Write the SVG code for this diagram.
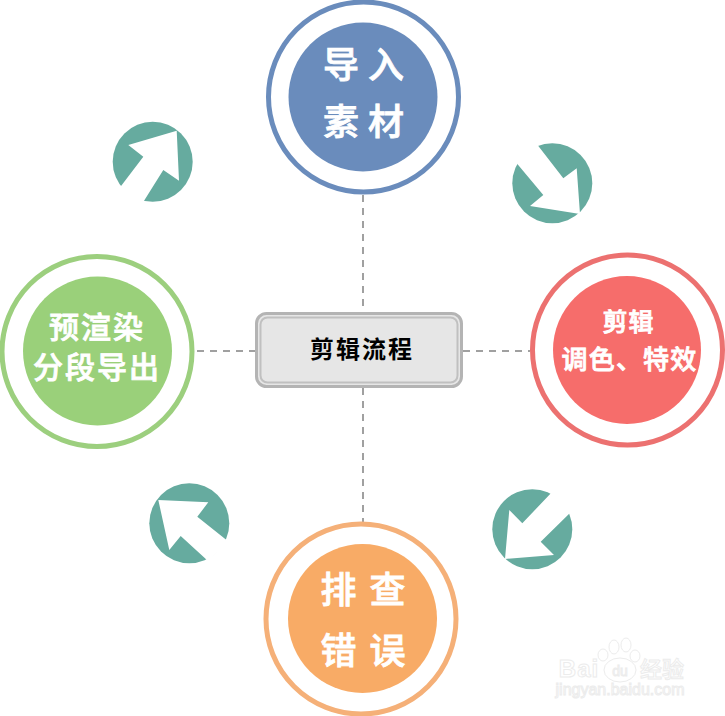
<svg xmlns="http://www.w3.org/2000/svg" width="725" height="716" viewBox="0 0 725 716">
<style>
text{font-family:"Noto Sans CJK SC","Noto Sans",sans-serif;font-weight:500;text-anchor:middle}
.w{fill:#fff;stroke:#fff;stroke-width:.8}
.ring{fill:#fff;stroke-width:5}
.dash{stroke:#a0a0a0;stroke-width:2;stroke-dasharray:7 6;fill:none}
.teal{fill:#66ab9f}
.cut{fill:#fff}
.wm{fill:#fff;stroke:#ececec;stroke-width:1}
.wl{font-family:"Liberation Sans",sans-serif}
</style>
<rect width="725" height="716" fill="#fff"/>
<g id="connectors">
<path class="dash" d="M363 195V312"/>
<path class="dash" d="M363 388V522"/>
<path class="dash" d="M197 351H255"/>
<path class="dash" d="M463 351H530"/>
</g>
<g id="node-import">
<circle class="ring" cx="363.500" cy="97" r="95" stroke="#6a8cbc"/>
<circle cx="363" cy="97" r="74.500" fill="#6a8cbc"/>
<text class="w" x="368" y="78" font-size="36" letter-spacing="9">导入</text>
<text class="w" x="368" y="135" font-size="36" letter-spacing="9">素材</text>
</g>
<g id="node-edit">
<circle class="ring" cx="627.500" cy="350" r="95" stroke="#ec7170"/>
<circle cx="627" cy="350" r="74" fill="#f66d6b"/>
<text class="w" x="628.500" y="331" font-size="25" letter-spacing="1">剪辑</text>
<text class="w" x="629.500" y="369" font-size="26" letter-spacing="1.200">调色、特效</text>
</g>
<g id="node-debug">
<circle class="ring" cx="361" cy="619" r="95" stroke="#f5b078"/>
<circle cx="362.500" cy="618.500" r="74.500" fill="#f8ab66"/>
<text class="w" x="369.500" y="603" font-size="36" letter-spacing="13">排查</text>
<text class="w" x="369.500" y="664" font-size="36" letter-spacing="13">错误</text>
</g>
<g id="node-render">
<circle class="ring" cx="97" cy="351.500" r="95" stroke="#9ccf7e"/>
<circle cx="97.500" cy="351" r="74.500" fill="#9ad07a"/>
<text class="w" x="97" y="338" font-size="30" letter-spacing="2">预渲染</text>
<text class="w" x="97" y="378" font-size="30" letter-spacing="2">分段导出</text>
</g>
<g id="node-center">
<rect x="256.500" y="313.500" width="205" height="73" rx="10" fill="#e6e6e6" stroke="#b4b4b4" stroke-width="3"/>
<rect x="260.500" y="317.500" width="197" height="65" rx="7" fill="#e6e6e6" stroke="#c0c0c0" stroke-width="2"/>
<text x="362" y="358" font-size="24" letter-spacing="2" fill="#000" style="font-weight:700">剪辑流程</text>
</g>
<g id="arrow-top-left">
<circle class="teal" cx="152.700" cy="161.700" r="40"/>
<polygon class="cut" points="176.700,130.700 128.300,145 143.300,156.700 118,190 142,204 163.300,170 179,180.700"/>
</g>
<g id="arrow-top-right">
<circle class="teal" cx="552.300" cy="183.300" r="40"/>
<polygon class="cut" points="580,214 576.700,168.300 563.300,178.300 536,143 514,160 543.300,195 530,206"/>
</g>
<g id="arrow-bottom-left">
<circle class="teal" cx="189.300" cy="523.300" r="40"/>
<polygon class="cut" points="158.300,500 208.300,502.300 197.300,516.700 229,542 208,561 180.700,536 169.300,550"/>
</g>
<g id="arrow-bottom-right">
<circle class="teal" cx="532.300" cy="529.300" r="40"/>
<polygon class="cut" points="505,559 509.300,510 522.300,523.300 553,491 572,511 540.700,541.700 554,555"/>
</g>
<g id="watermark">
<text class="wm wl" x="579" y="677" font-size="24" style="font-weight:700" letter-spacing="1">Bai</text>
<ellipse class="wm" cx="614" cy="647" rx="5" ry="7"/>
<ellipse class="wm" cx="626" cy="645" rx="5" ry="7"/>
<ellipse class="wm" cx="603" cy="655" rx="5" ry="6"/>
<ellipse class="wm" cx="635" cy="656" rx="5" ry="6"/>
<ellipse class="wm" cx="620" cy="670" rx="16" ry="12"/>
<text class="wm wl" x="620" y="676" font-size="14">du</text>
<text class="wm" x="662" y="677" font-size="22">经验</text>
<text class="wm wl" x="620" y="695" font-size="16">jingyan.baidu.com</text>
</g>
</svg>
